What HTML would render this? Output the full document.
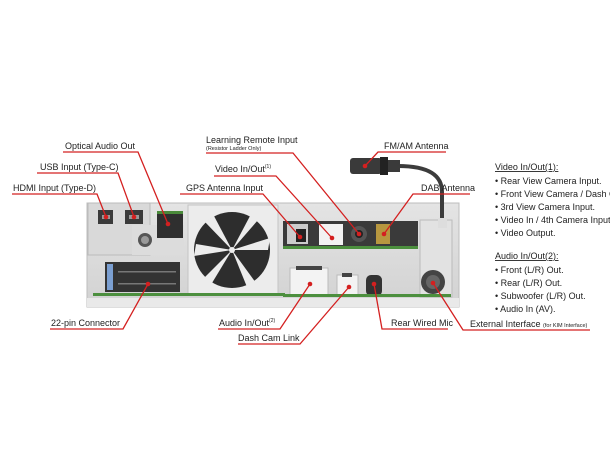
<!DOCTYPE html>
<html><head><meta charset="utf-8"><style>
html,body{margin:0;padding:0;background:#fff;}
svg{display:block;}
text{font-family:"Liberation Sans",sans-serif;fill:#222;}
</style></head><body>
<svg width="610" height="450" viewBox="0 0 610 450" xmlns="http://www.w3.org/2000/svg">
<defs>
<linearGradient id="body" x1="0" y1="0" x2="0" y2="1"><stop offset="0" stop-color="#e4e4e4"/><stop offset="1" stop-color="#d2d2d2"/></linearGradient>
</defs>
<rect x="87" y="203" width="372" height="104" fill="url(#body)" stroke="#bdbdbd"/>
<rect x="87" y="298" width="372" height="9" fill="#e9e9e9"/>
<rect x="88" y="203" width="62" height="52" fill="#d9d9d9" stroke="#bbb"/>
<rect x="132" y="225" width="52" height="30" fill="#dcdcdc"/>
<path d="M98,210 h15 v14 h-15z" fill="#3a3a3a"/><rect x="102" y="215" width="8" height="4" fill="#999"/>
<path d="M125,210 h18 v14 h-18z" fill="#3a3a3a"/><rect x="129" y="215" width="10" height="4" fill="#999"/>
<circle cx="145" cy="240" r="7" fill="#555"/><circle cx="145" cy="240" r="4" fill="#999"/>
<rect x="157" y="211" width="26" height="3" fill="#4a8a3a"/>
<rect x="157" y="214" width="26" height="24" fill="#2f2f2f"/>
<rect x="105" y="262" width="75" height="30" fill="#333"/>
<rect x="107" y="264" width="6" height="26" fill="#7b9fd1"/>
<g fill="#777">
<rect x="118" y="271" width="58" height="1.5"/><rect x="118" y="283" width="58" height="1.5"/>
</g>
<rect x="188" y="205" width="90" height="89" fill="#ececec" stroke="#c4c4c4"/>
<circle cx="232" cy="250" r="38" fill="#2d2d2d"/>
<g fill="#ececec">
<path d="M232,250 L270,238 L268,250z"/><path d="M232,250 L250,216 L258,220z"/><path d="M232,250 L205,222 L214,216z"/>
<path d="M232,250 L194,256 L196,244z"/><path d="M232,250 L212,283 L204,278z"/><path d="M232,250 L256,283 L247,287z"/>
</g>
<circle cx="232" cy="250" r="3" fill="#ececec"/>
<rect x="283" y="221" width="135" height="26" fill="#3a3a3a"/>
<rect x="283" y="246" width="135" height="3" fill="#4c8f3e"/>
<rect x="287" y="224" width="21" height="20" fill="#ccc"/><rect x="296" y="229" width="10" height="13" fill="#222"/>
<rect x="319" y="224" width="24" height="21" fill="#f2f2f2"/>
<circle cx="359" cy="234" r="8" fill="#555"/><circle cx="359" cy="234" r="4" fill="#222"/>
<rect x="376" y="224" width="14" height="20" fill="#b7973f"/>
<rect x="290" y="268" width="38" height="27" fill="#f3f3f3" stroke="#bbb"/>
<rect x="296" y="266" width="26" height="4" fill="#444"/>
<rect x="337" y="275" width="21" height="20" fill="#f3f3f3" stroke="#bbb"/>
<rect x="342" y="273" width="10" height="4" fill="#444"/>
<rect x="366" y="275" width="16" height="21" rx="5" fill="#333"/>
<rect x="420" y="220" width="32" height="77" fill="#e2e2e2" stroke="#bbb"/>
<circle cx="433" cy="282" r="12" fill="#444"/><circle cx="433" cy="282" r="7" fill="#666"/>
<rect x="283" y="294" width="168" height="3" fill="#4c8f3e"/>
<rect x="93" y="293" width="192" height="3" fill="#4c8f3e"/>
<path d="M398,166 C430,166 442,176 442,192 L442,222" fill="none" stroke="#3c3c3c" stroke-width="4"/>
<rect x="350" y="158" width="32" height="16" rx="3" fill="#3a3a3a"/>
<rect x="380" y="157" width="8" height="18" fill="#222"/>
<rect x="388" y="160" width="12" height="12" fill="#3a3a3a"/>
<rect x="438" y="218" width="9" height="10" fill="#ddd"/>

<g stroke="#d42020" stroke-width="1.3" fill="none">
<polyline points="63,152 138,152 168,224"/>
<polyline points="37,173 118,173 134,217"/>
<polyline points="12,194 97,194 106,217"/>
<polyline points="206,153 293,153 359,234"/>
<polyline points="214,176 276,176 332,238"/>
<polyline points="180,194 263,194 300,237"/>
<polyline points="446,152 378,152 365,166"/>
<polyline points="470,194 413,194 384,234"/>
<polyline points="50,329 123,329 148,284"/>
<polyline points="218,329 280,329 310,284"/>
<polyline points="238,344 300,344 349,287"/>
<polyline points="448,329 382,329 374,284"/>
<polyline points="590,330 463,330 433,283"/>
</g>
<g fill="#d42020">
<circle cx="168" cy="224" r="2.3"/><circle cx="134" cy="217" r="2.3"/><circle cx="106" cy="217" r="2.3"/>
<circle cx="359" cy="234" r="2.3"/><circle cx="332" cy="238" r="2.3"/><circle cx="300" cy="237" r="2.3"/>
<circle cx="365" cy="166" r="2.3"/><circle cx="384" cy="234" r="2.3"/><circle cx="148" cy="284" r="2.3"/>
<circle cx="310" cy="284" r="2.3"/><circle cx="349" cy="287" r="2.3"/><circle cx="374" cy="284" r="2.3"/><circle cx="433" cy="283" r="2.3"/>
</g>
<g font-size="9">
<text x="65" y="149">Optical Audio Out</text>
<text x="40" y="170">USB Input (Type-C)</text>
<text x="13" y="191">HDMI Input (Type-D)</text>
<text x="206" y="143">Learning Remote Input</text>
<text x="215" y="172">Video In/Out<tspan font-size="5" dy="-4">(1)</tspan></text>
<text x="186" y="191">GPS Antenna Input</text>
<text x="384" y="149">FM/AM Antenna</text>
<text x="421" y="191">DAB Antenna</text>
<text x="51" y="326">22-pin Connector</text>
<text x="219" y="326">Audio In/Out<tspan font-size="5" dy="-4">(2)</tspan></text>
<text x="238" y="341">Dash Cam Link</text>
<text x="391" y="326">Rear Wired Mic</text>
<text x="470" y="327">External Interface <tspan font-size="5.5">(for KIM Interface)</tspan></text>
</g>
<text x="206" y="150" font-size="5.5">(Resistor Ladder Only)</text>
<g font-size="9">
<text x="495" y="170" text-decoration="underline">Video In/Out(1):</text>
<text x="495" y="184">• Rear View Camera Input.</text>
<text x="495" y="197">• Front View Camera / Dash Cam</text>
<text x="495" y="210">• 3rd View Camera Input.</text>
<text x="495" y="223">• Video In / 4th Camera Input.</text>
<text x="495" y="236">• Video Output.</text>
<text x="495" y="259" text-decoration="underline">Audio In/Out(2):</text>
<text x="495" y="273">• Front (L/R) Out.</text>
<text x="495" y="286">• Rear (L/R) Out.</text>
<text x="495" y="299">• Subwoofer (L/R) Out.</text>
<text x="495" y="312">• Audio In (AV).</text>
</g>
</svg>
</body></html>
